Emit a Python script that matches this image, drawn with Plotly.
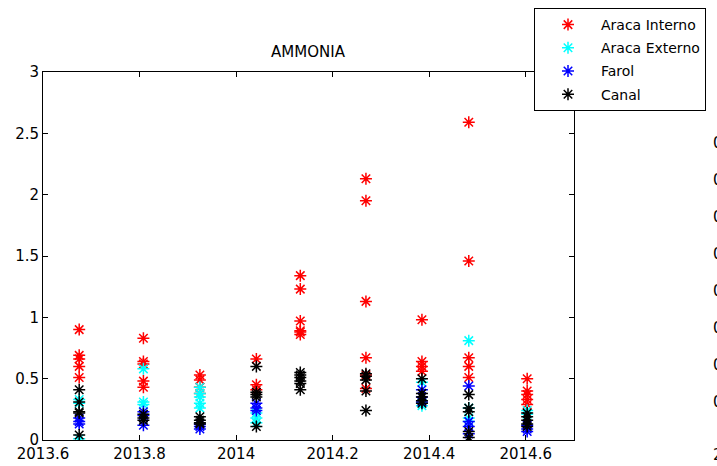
import plotly.graph_objects as go

# ---- data (decimal-year sampling campaigns) ----
sample_dates = [2013.675, 2013.808, 2013.925, 2014.042, 2014.133,
                2014.269, 2014.385, 2014.482, 2014.603]

series_names = ["Araca Interno", "Araca Externo", "Farol", "Canal"]
series_colors = ["#ff0000", "#00ffff", "#0000ff", "#000000"]

araca_interno = [
    [0.90, 0.69, 0.66, 0.60, 0.51],
    [0.83, 0.64, 0.62, 0.48, 0.43],
    [0.53, 0.49, 0.43, 0.38],
    [0.66, 0.45, 0.41],
    [1.34, 1.23, 0.97, 0.89, 0.88, 0.86],
    [2.13, 1.95, 1.13, 0.67, 0.53, 0.42],
    [0.98, 0.64, 0.60, 0.56],
    [2.59, 1.46, 0.67, 0.60, 0.51],
    [0.50, 0.40, 0.37, 0.33, 0.29],
]
araca_externo = [
    [0.33, 0.30, 0.01],
    [0.58, 0.31, 0.29],
    [0.43, 0.38, 0.35, 0.30, 0.26],
    [0.22, 0.18, 0.14],
    [],
    [],
    [0.47, 0.30, 0.28],
    [0.81, 0.26, 0.18, 0.15],
    [0.24, 0.21],
]
farol = [
    [0.18, 0.15, 0.13],
    [0.23, 0.20, 0.12],
    [0.13, 0.11, 0.09],
    [0.30, 0.26, 0.24],
    [],
    [],
    [0.41, 0.35, 0.31],
    [0.44, 0.15, 0.11, 0.05],
    [0.12, 0.09, 0.07],
]
canal = [
    [0.41, 0.31, 0.23, 0.22, 0.04],
    [0.21, 0.18, 0.16],
    [0.19, 0.16, 0.14, 0.13],
    [0.60, 0.39, 0.37, 0.35, 0.11],
    [0.55, 0.53, 0.51, 0.48, 0.46, 0.41],
    [0.54, 0.52, 0.49, 0.40, 0.24],
    [0.50, 0.38, 0.35, 0.32, 0.30],
    [0.37, 0.26, 0.23, 0.07, 0.02],
    [0.22, 0.19, 0.16, 0.13, 0.11],
]
series_values = [araca_interno, araca_externo, farol, canal]

x_ticks = [2013.6, 2013.8, 2014.0, 2014.2, 2014.4, 2014.6]
x_tick_labels = ["2013.6", "2013.8", "2014", "2014.2", "2014.4", "2014.6"]
y_ticks = [0, 0.5, 1, 1.5, 2, 2.5, 3]
y_tick_labels = ["0", "0.5", "1", "1.5", "2", "2.5", "3"]

# tick labels of the neighbouring (cut-off) panel at the right edge
neighbor_labels = ["0.8", "0.7", "0.6", "0.5", "0.4", "0.3", "0.2", "0.1"]
neighbor_values = [0.8, 0.7, 0.6, 0.5, 0.4, 0.3, 0.2, 0.1]

FONT = "DejaVu Sans"
W, H = 717, 466
L, R, T, B = 43, 143, 72, 26

fig = go.Figure()
for name, color, vals in zip(series_names, series_colors, series_values):
    xs, ys = [], []
    for d, group in zip(sample_dates, vals):
        for v in group:
            xs.append(d)
            ys.append(v)
    fig.add_trace(go.Scatter(
        x=xs, y=ys, mode="markers", name=name, legendgroup=name,
        marker=dict(symbol="asterisk-open", size=10, color=color,
                    line=dict(width=1.5, color=color)),
    ))

plot_w = W - L - R
plot_h = H - T - B
annotations = []
for lab, v in zip(neighbor_labels, neighbor_values):
    pix = 439 - v * 370
    annotations.append(dict(
        text=lab, xref="paper", yref="paper",
        x=(711 - L) / plot_w, y=(H - B - pix) / plot_h,
        xanchor="left", yanchor="middle", showarrow=False,
        font=dict(family=FONT, size=15, color="black")))
annotations.append(dict(
    text="2013.6", xref="paper", yref="paper",
    x=(711 - L) / plot_w, y=-(455 - (H - B)) / plot_h,
    xanchor="left", yanchor="middle", showarrow=False,
    font=dict(family=FONT, size=15, color="black")))

axis_common = dict(showline=True, linecolor="black", linewidth=1,
                   mirror="ticks", ticks="inside", ticklen=5,
                   tickcolor="black", tickwidth=1, showgrid=False,
                   zeroline=False,
                   tickfont=dict(family=FONT, size=15, color="black"))

fig.update_layout(
    width=W, height=H,
    margin=dict(l=L, r=R, t=T, b=B, pad=0, autoexpand=False),
    paper_bgcolor="white", plot_bgcolor="white",
    title=dict(text="AMMONIA", x=308 / W, xref="container",
               y=1 - 52 / H, yref="container",
               xanchor="center", yanchor="middle",
               font=dict(family=FONT, size=15, color="black")),
    xaxis=dict(range=[2013.6, 2014.7], tickvals=x_ticks,
               ticktext=x_tick_labels, **axis_common),
    yaxis=dict(range=[0, 3], tickvals=y_ticks,
               ticktext=y_tick_labels, **axis_common),
    legend=dict(xref="container", yref="container",
                x=534 / W, y=1 - 8 / H, xanchor="left", yanchor="top",
                bgcolor="white", bordercolor="black", borderwidth=1,
                font=dict(family=FONT, size=14, color="black"),
                itemwidth=56, tracegroupgap=2, traceorder="grouped",
                entrywidth=200, entrywidthmode="pixels"),
    annotations=annotations,
    showlegend=True,
)

fig.write_html("out.html")
